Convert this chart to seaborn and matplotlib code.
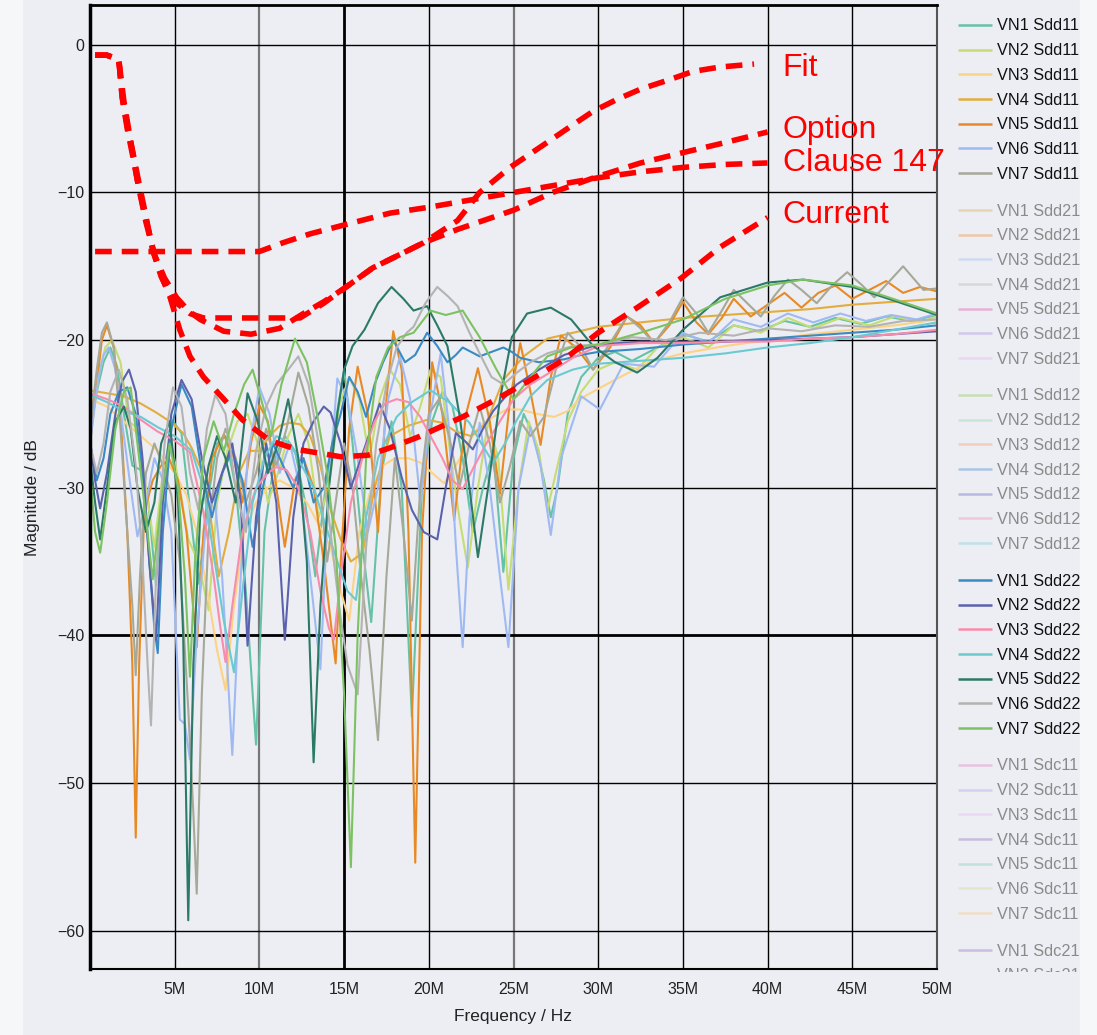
import numpy as np
import pandas as pd
import seaborn as sns
import matplotlib
matplotlib.use("Agg")
from matplotlib import pyplot as plt
from matplotlib.patches import Rectangle

# ---- measured traces (frequency in MHz, magnitude in dB) ----
vn1_sdd11_f = [0, 0.4, 0.8, 1.2, 1.6, 2.0, 2.5, 3.0, 3.4, 3.9, 4.4, 4.9, 5.4, 5.9, 6.4, 7.0, 7.5, 8.0, 8.6, 9.2, 9.8, 10.3, 10.9, 11.5, 12.1, 12.7, 13.3, 13.9, 14.5, 15.0, 15.5, 16.0, 16.6, 17.2, 17.8, 18.4, 19.0, 19.6, 20.2, 20.8, 21.4, 22.0, 22.6, 23.2, 23.8, 24.4, 25.0, 25.6, 26.2, 26.8, 27.2, 27.6, 28.2, 29.0, 30.0, 31.0, 32.0, 33.5, 35, 36.5, 38, 39.5, 41, 42.5, 44, 45.5, 47, 48.5, 50]
vn1_sdd11_db = [-25.5, -23.5, -21.5, -20.5, -21.8, -25, -28.5, -28.8, -30.5, -36.6, -28.5, -25.5, -26.3, -31.5, -36.5, -30.5, -27.0, -26.5, -30, -37, -47.4, -33, -28, -26.5, -27.5, -31, -36, -30, -25.5, -22.0, -27, -33, -39.1, -29, -25.5, -30, -45.5, -30, -25.5, -23.5, -24.5, -28, -33, -30, -27.5, -35.7, -28, -25, -26.5, -29.5, -32, -30, -25, -22.5, -21.2, -20.8, -21.4, -20.5, -19.6, -20.1, -19.0, -19.4, -18.7, -19.1, -18.5, -18.9, -18.4, -18.7, -18.3]

vn2_sdd11_f = [0, 0.5, 0.9, 1.3, 1.8, 2.3, 2.8, 3.3, 3.8, 4.3, 4.8, 5.3, 5.8, 6.4, 7.0, 7.5, 8.1, 8.7, 9.3, 9.9, 10.5, 11.1, 11.7, 12.3, 12.9, 13.5, 14.1, 14.7, 15.3, 15.9, 16.5, 17.1, 17.7, 18.3, 18.9, 19.5, 20.1, 20.7, 21.3, 21.8, 22.3, 22.9, 23.5, 24.1, 24.7, 25.3, 25.9, 26.5, 27.0, 27.5, 28.2, 29, 30, 31, 32.3, 33.5, 35, 36.5, 38, 39.6, 41.2, 42.7, 44.3, 46, 47.5, 49, 50]
vn2_sdd11_db = [-26.5, -22.5, -20.5, -20.0, -21.5, -25.5, -26, -30, -34, -29, -27, -30, -33.5, -35, -38.3, -31, -27.5, -25.5, -25, -27, -31, -29, -26.5, -25, -27, -32, -30, -24.5, -22.5, -24, -28, -24, -22, -23, -26.5, -24.5, -22.0, -22.5, -28, -32, -35.4, -30, -25.5, -28, -36.9, -30, -25.5, -27.5, -31.5, -29, -25.5, -23.5, -22, -21.5, -22, -20.5, -19.8, -20.5, -19.0, -19.5, -18.5, -19.2, -18.5, -19.0, -18.4, -18.8, -18.4]

vn3_sdd11_f = [0, 1, 2, 3, 4, 5, 5.7, 6.3, 7.0, 7.5, 8.0, 8.5, 9.1, 9.8, 10.5, 11.2, 12.0, 12.8, 13.5, 14.2, 14.8, 15.3, 15.9, 16.6, 17.3, 18.0, 18.8, 19.5, 20.2, 20.9, 21.6, 22.3, 23.0, 23.8, 24.6, 25.4, 26.4, 27.4, 28.2, 28.9, 30.0, 31.3, 33, 35, 37.5, 40, 42.5, 45, 47.5, 50]
vn3_sdd11_db = [-24, -24.5, -25.5, -26.5, -27.5, -29, -30.5, -33, -37.5, -41, -43.7, -38, -33, -31, -30, -29.5, -30, -31, -32.5, -34, -37, -39, -33, -30, -28.5, -28, -28, -28.3, -29.0, -29.7, -28.5, -27, -25.8, -25.2, -24.7, -24.7, -25.0, -25.2, -24.8, -24.0, -23.3, -22.5, -21.5, -20.9, -20.4, -20.0, -19.6, -19.3, -19.0, -18.6]

vn4_sdd11_f = [0, 1, 2, 3, 3.9, 4.7, 5.5, 6.0, 6.5, 7.0, 7.6, 8.2, 8.8, 9.4, 10.0, 10.6, 11.2, 11.8, 12.4, 13.0, 13.6, 14.2, 14.8, 15.4, 16.1, 16.8, 17.7, 18.8, 19.9, 20.8, 21.6, 22.5, 23.4, 24.4, 25.6, 27.0, 28.9, 30, 32.5, 35, 37.5, 40, 42.5, 45, 47.5, 50]
vn4_sdd11_db = [-23.4, -23.6, -23.8, -24.3, -24.9, -25.5, -26.3, -27.3, -28.6, -31, -36, -33, -29, -27.5, -27.5, -26.5, -25.8, -25.6, -25.7, -26.5, -28.5, -31.5, -33.5, -35, -34.4, -30, -26.5, -25.8, -25.4, -25.6, -26.2, -26.5, -25.6, -22.7, -21.1, -19.9, -19.4, -19.1, -18.8, -18.5, -18.3, -18.1, -17.9, -17.6, -17.4, -17.2]

vn5_sdd11_f = [0, 0.4, 0.7, 1.0, 1.4, 1.8, 2.2, 2.5, 2.7, 2.9, 3.2, 3.7, 4.2, 4.7, 5.2, 5.7, 6.0, 6.3, 6.7, 7.2, 7.9, 8.5, 9.0, 9.5, 10.0, 10.5, 11.0, 11.5, 12.1, 12.6, 13.2, 13.8, 14.2, 14.5, 14.8, 15.3, 15.8, 16.4, 17.0, 17.5, 17.9, 18.4, 18.8, 19.2, 19.6, 20.2, 20.8, 21.5, 22.2, 22.9, 23.6, 24.2, 24.8, 25.4, 26.0, 26.6, 27.2, 27.8, 28.7, 29.7, 30.7, 31.7, 32.5, 33.3, 34.2, 35, 35.8, 36.5, 37.3, 38, 39, 40, 41, 42, 43, 44, 45, 46, 47, 48, 49, 50]
vn5_sdd11_db = [-27, -23, -20, -19.0, -20.5, -25, -33, -42, -53.7, -42, -31.7, -29.5, -28.5, -28.1, -29.5, -33, -37, -40.8, -33, -28, -26.4, -28, -31, -27, -24.4, -25.5, -30, -34, -29.5, -28, -30, -35, -39, -41.9, -35, -26, -21.8, -25, -33, -24, -19.4, -22, -33, -55.4, -33, -21.5, -25, -32.2, -25, -21.9, -25.5, -30.4, -24, -20.2, -23.5, -27.1, -22.5, -19.7, -20.5, -22.0, -20.5, -18.4, -19, -20.2, -19, -17.4, -18.8, -19.6, -18.5, -17.2, -18.4, -17.6, -16.8, -17.8, -16.8, -16.3, -17.2, -16.6, -16.0, -16.8, -16.4, -16.7]

vn6_sdd11_f = [0, 0.5, 0.8, 1.1, 1.5, 2.0, 2.4, 2.8, 3.3, 3.8, 4.3, 4.8, 5.3, 5.6, 5.9, 6.3, 6.8, 7.3, 7.8, 8.1, 8.4, 8.8, 9.3, 10.0, 10.6, 11.2, 11.8, 12.4, 13.0, 13.6, 14.1, 14.6, 15.2, 15.8, 16.4, 17.0, 17.6, 18.3, 18.9, 19.5, 20.1, 20.7, 21.2, 21.6, 22.0, 22.4, 23.0, 23.6, 24.2, 24.7, 25.3, 26.0, 26.6, 27.2, 27.8, 29.0, 30.1, 31.5, 33.3, 35, 36.5, 38, 39.6, 41.2, 42.7, 44.3, 45.8, 47.3, 48.8, 50]
vn6_sdd11_db = [-27, -22.5, -21, -20.5, -22, -26.5, -30, -33.3, -31, -28, -29.5, -33, -45.7, -46, -48.4, -40, -33, -30, -36, -42, -48.1, -38, -28, -23.2, -25, -29, -27, -30, -36, -42.3, -30, -22.6, -24, -28, -33, -30, -24, -21.1, -24, -31, -25, -20.9, -26, -34, -40.8, -32, -25.6, -30, -36, -40.8, -30, -25.9, -28.5, -33.2, -28, -23.8, -24.7, -21.6, -21.8, -19.5, -20.2, -18.6, -19.1, -18.2, -18.8, -18.2, -18.7, -18.3, -18.6, -18.2]

vn7_sdd11_f = [0, 0.4, 0.7, 1.0, 1.4, 1.8, 2.2, 2.5, 2.7, 2.95, 3.3, 3.8, 4.3, 4.8, 5.3, 5.8, 6.1, 6.3, 6.6, 7.0, 7.5, 8.0, 8.6, 9.2, 9.8, 10.4, 11.0, 11.6, 12.3, 12.9, 13.5, 14.0, 14.5, 15.0, 15.5, 16.0, 16.5, 17.0, 17.5, 18.0, 18.5, 19.0, 19.5, 20.0, 20.6, 21.2, 21.8, 22.4, 23.0, 23.6, 24.2, 24.8, 25.4, 26.0, 26.8, 27.5, 28.2, 29.0, 29.7, 30.7, 31.7, 32.5, 33.3, 34.2, 35, 35.8, 36.5, 37.3, 38, 38.8, 39.6, 40.4, 41.2, 42.0, 42.9, 43.8, 44.7, 45.5, 46.3, 47.2, 48, 48.6, 49.2, 50]
vn7_sdd11_db = [-26, -22, -19.5, -18.8, -20.5, -26, -33, -38, -42.7, -36, -29, -27, -28.5, -30.5, -35, -45, -52, -57.5, -44, -33, -28, -26, -28, -31, -29, -26, -28.5, -26, -22.2, -24.5, -29, -35, -31, -27, -30, -36, -41, -47.1, -36, -28, -33, -39, -30, -25, -24, -26.5, -30, -27, -24.5, -27, -31, -28.5, -25.5, -26.5, -25.2, -22, -19.5, -20.5, -22.0, -20.2, -18.4, -19.2, -20.2, -18.8, -17.1, -18.2, -19.5, -18.0, -16.6, -17.5, -18.4, -17.0, -15.9, -16.6, -17.5, -16.3, -15.4, -16.2, -17.1, -16.0, -15.0, -15.8, -16.6, -16.5]

vn1_sdd22_f = [0, 0.4, 0.8, 1.2, 1.7, 2.2, 2.7, 3.1, 3.5, 3.8, 4.0, 4.3, 4.8, 5.4, 6.0, 6.6, 7.2, 7.8, 8.4, 9.0, 9.6, 10.2, 10.8, 11.4, 12.0, 12.6, 13.2, 13.8, 14.3, 14.8, 15.3, 15.8, 16.3, 16.8, 17.3, 17.9, 18.6, 19.2, 19.9, 20.5, 21.1, 21.6, 22.0, 22.5, 23.0, 23.7, 24.4, 24.9, 25.4, 26.5, 28, 29, 30, 32.5, 35, 37.5, 40, 42.5, 45, 47.5, 50]
vn1_sdd22_db = [-27, -29.5, -28, -25, -23.5, -23.2, -25, -29, -35, -39.5, -41.2, -33, -26, -23, -24.5, -29, -32, -29, -27.5, -29.5, -34, -30, -27, -28.5, -30, -28, -31, -30, -27, -25, -22.5, -23.5, -25.2, -23, -21.5, -20.0, -21.5, -21, -19.5, -20.4, -21.5, -21, -20.5, -20.8, -21.1, -20.8, -20.5, -20.8, -21.2, -21.5, -21.3, -21.0, -20.8, -20.6, -20.3, -20.1, -19.9, -19.7, -19.5, -19.3, -19.0]

vn2_sdd22_f = [0, 0.3, 0.6, 1.0, 1.5, 1.9, 2.3, 2.7, 3.1, 3.5, 3.9, 4.3, 4.8, 5.4, 6.0, 6.6, 7.2, 7.8, 8.4, 8.9, 9.3, 9.8, 10.4, 11.0, 11.5, 12.0, 12.6, 13.2, 13.8, 14.2, 14.8, 15.4, 16.0, 16.6, 17.1, 17.7, 18.4, 19.0, 19.7, 20.5, 21.0, 21.6, 22.1, 22.6, 23.2, 23.8, 24.4, 25.2, 26.5, 28, 30, 32.5, 35, 37.5, 40, 42.5, 45, 47.5, 50]
vn2_sdd22_db = [-26.8, -29.5, -31.4, -29, -25, -22.8, -22.0, -23.5, -28, -35, -40.3, -31, -25, -22.7, -24, -28, -31, -29, -27, -31, -40.7, -32, -27, -31, -40.3, -32, -27, -25.5, -24.5, -24.9, -27, -30, -28, -26, -24.3, -26, -29.3, -31.5, -33, -33.5, -30, -26.3, -26.8, -27.4, -26, -24.8, -24.0, -23.0, -22.0, -21.0, -20.3, -20.1, -20.1, -20.1, -20.0, -19.9, -19.8, -19.6, -19.4]

vn3_sdd22_f = [0, 1, 2, 3, 4, 5, 5.9, 6.7, 7.3, 7.7, 8.0, 8.4, 9.0, 9.8, 10.5, 11.0, 11.6, 12.3, 13.0, 13.6, 14.1, 14.4, 14.8, 15.4, 16.1, 16.8, 17.4, 18.1, 18.8, 19.5, 20.1, 20.8, 21.4, 22.0, 22.7, 23.4, 24.2, 25.0, 26.0, 27.0, 28.5, 30, 32.5, 35, 37.5, 40, 42.5, 45, 47.5, 50]
vn3_sdd22_db = [-23.6, -24, -24.5, -25.4, -26.2, -26.8, -27.6, -31.7, -36, -39.5, -41.8, -38, -33, -30, -29, -28.6, -28.8, -30, -33, -37, -39.5, -40.3, -36, -31, -27.9, -25.5, -24.3, -24.0, -24.2, -25.2, -26.5, -28, -29.5, -30.1, -28.5, -27, -25.5, -24, -23, -22.3, -21.2, -20.4, -20.2, -20.2, -20.1, -20.1, -19.9, -19.8, -19.6, -19.3]

vn4_sdd22_f = [0, 1, 2, 3, 4, 5, 6, 6.7, 7.3, 7.9, 8.5, 9.0, 9.6, 10.3, 11.0, 11.8, 12.5, 13.2, 13.9, 14.6, 15.2, 15.7, 16.3, 17.0, 18.1, 19.0, 20.1, 21.2, 22.4, 23.1, 23.8, 24.5, 25.2, 26, 27, 28.5, 30, 32.5, 35, 37.5, 40, 42.5, 45, 47.5, 50]
vn4_sdd22_db = [-23.7, -24.2, -24.8, -25.2, -25.9, -26.5, -27.5, -30, -34.5, -39, -42.5, -37, -31, -28, -26.5, -27, -28.5, -30, -32.5, -35, -37, -37.6, -32, -28, -25.2, -24.2, -23.4, -24.2, -25.6, -27, -28.3, -27, -25.4, -23.8, -22.7, -22.0, -21.6, -21.4, -21.2, -20.9, -20.5, -20.2, -19.8, -19.3, -18.8]

vn5_sdd22_f = [0, 0.3, 0.6, 1.0, 1.5, 2.0, 2.4, 2.8, 3.3, 3.8, 4.2, 4.7, 5.2, 5.5, 5.8, 6.1, 6.5, 7.0, 7.5, 8.0, 8.6, 9.3, 9.9, 10.5, 11.1, 11.7, 12.3, 12.8, 13.2, 13.6, 14.1, 14.6, 15.0, 15.5, 16.2, 17.0, 17.8, 18.5, 19.1, 19.9, 20.5, 21.1, 21.8, 22.4, 22.9, 23.5, 24.2, 24.9, 25.8, 27.2, 28.4, 29.7, 31, 32.3, 33.5, 35, 37.2, 40, 42.1, 45, 47.4, 50]
vn5_sdd22_db = [-28, -31, -33.5, -30, -25.5, -24.5, -26, -30, -33, -31, -27, -25.5, -31, -40, -59.3, -42, -32, -28.5, -26.5, -28, -31, -23.6, -25.5, -29, -27, -24.0, -28, -35, -48.6, -38, -30, -25, -22.0, -20.4, -19.3, -17.5, -16.4, -17.2, -18.0, -17.7, -19.0, -20.4, -25, -30, -34.7, -30, -24, -19.8, -18.2, -17.8, -18.6, -20.4, -21.5, -22.2, -21.2, -19.3, -17.1, -16.1, -15.9, -16.4, -17.3, -18.3]

vn6_sdd22_f = [0, 0.4, 0.8, 1.2, 1.7, 2.2, 2.7, 3.1, 3.4, 3.6, 3.9, 4.4, 4.9, 5.4, 5.9, 6.4, 6.9, 7.4, 8.0, 8.6, 9.2, 9.8, 10.4, 11.0, 11.7, 12.3, 12.9, 13.5, 14.1, 14.7, 15.2, 15.8, 16.3, 16.9, 17.5, 18.1, 18.7, 19.1, 19.8, 20.5, 21.1, 21.7, 22.4, 23.0, 23.7, 24.4, 25.2, 26.0, 27.0, 28.5, 30, 32, 34, 36, 38, 40, 42, 44, 46, 48, 50]
vn6_sdd22_db = [-27, -29, -27, -23.5, -22, -24, -28.5, -35, -42, -46.1, -36, -27, -23.2, -24.5, -29, -31.5, -26, -23.7, -25, -30, -33, -27.5, -24.5, -23, -22, -21.1, -23, -27, -32, -38, -42, -44, -34, -27, -23, -20.5, -19.5, -19.1, -17.5, -16.4, -17.0, -17.7, -19.5, -20.9, -22.5, -23, -22.2, -21.5, -20.9, -20.4, -20.3, -19.8, -20.0, -19.5, -19.7, -19.2, -19.4, -19.0, -19.1, -18.7, -18.6]

vn7_sdd22_f = [0, 0.3, 0.6, 1.0, 1.5, 2.0, 2.4, 2.8, 3.3, 3.7, 4.2, 4.7, 5.2, 5.6, 5.9, 6.2, 6.7, 7.3, 7.9, 8.5, 9.1, 9.6, 10.1, 10.7, 11.3, 12.1, 12.8, 13.4, 14.0, 14.5, 15.0, 15.4, 15.8, 16.3, 16.9, 17.6, 18.3, 19.1, 20.1, 21.0, 22.0, 23.0, 24.0, 25.0, 26.0, 27.0, 28.4, 30, 32.5, 35, 37.5, 40, 42.1, 45, 47.4, 50]
vn7_sdd22_db = [-29, -33, -34.4, -31, -26, -23.5, -23.2, -27, -32, -36.2, -31, -27, -30, -36, -42.8, -35, -28, -25.5, -27.5, -25, -23, -22.0, -24, -26.5, -23, -19.9, -21.5, -25, -29, -34, -44, -55.7, -40, -28, -22.5, -20.5, -19.8, -19.5, -18.0, -18.3, -18.0, -19.8, -22.0, -24, -22.5, -21.1, -20.5, -20.3, -19.5, -18.6, -17.2, -16.3, -15.9, -16.3, -17.2, -18.2]

# ---- limit lines ----
fit_f = [0.3, 1.0, 1.7, 1.9, 2.2, 2.5, 2.9, 3.3, 3.7, 4.2, 4.9, 5.9, 6.7, 8, 10, 12.4, 13.8, 15.0, 16.7, 18.3, 19.7, 21.7, 23.0, 24.8, 27.0, 28.4, 29.7, 31.1, 32.5, 34.1, 35.6, 37.2, 39.2]
fit_db = [-0.7, -0.7, -1.0, -3.5, -5.5, -7.1, -9.4, -11.6, -13.9, -15.7, -17.3, -18.2, -18.5, -18.5, -18.5, -18.5, -17.5, -16.5, -15.1, -14.2, -13.4, -11.9, -10.0, -8.3, -6.6, -5.5, -4.5, -3.7, -3.0, -2.4, -1.8, -1.5, -1.3]
option_f = [0.3, 1.0, 1.7, 1.9, 2.2, 2.5, 2.9, 3.3, 3.8, 4.4, 5.1, 5.8, 6.5, 7.9, 9.5, 11.2, 12.6, 13.8, 15.0, 16.7, 18.3, 19.7, 21.7, 25.0, 27.3, 30.0, 32.5, 35.0, 37.2, 40.0]
option_db = [-0.7, -0.7, -1.0, -3.6, -5.7, -7.4, -9.8, -12.0, -14.2, -15.8, -17.1, -18.0, -18.6, -19.4, -19.6, -19.2, -18.2, -17.4, -16.5, -15.1, -14.2, -13.4, -12.5, -11.2, -10.0, -8.9, -8.0, -7.3, -6.7, -5.9]
clause_f = [0.3, 2, 4, 6, 8, 10, 11.4, 13, 15, 17.7, 20, 22.5, 25, 27.5, 30, 32.5, 35, 37.5, 40]
clause_db = [-14, -14, -14, -14, -14, -14, -13.4, -12.8, -12.2, -11.4, -11.0, -10.5, -10.0, -9.5, -9.0, -8.6, -8.3, -8.1, -8.0]
current_f = [0.3, 1.0, 1.7, 2.0, 2.4, 2.8, 3.3, 3.8, 4.3, 4.7, 5.3, 5.9, 6.7, 7.9, 9.0, 10.6, 12.2, 14.8, 16.4, 17.7, 19.3, 22.0, 24.0, 26.0, 28.0, 30.0, 32.3, 34.9, 37.2, 40.0]
current_db = [-0.7, -0.7, -1.0, -3.8, -6.5, -9.2, -11.8, -14.2, -15.9, -17.0, -19.3, -21.1, -22.5, -24.0, -25.4, -26.8, -27.4, -27.9, -27.8, -27.3, -26.6, -25.2, -24.0, -22.7, -21.3, -19.5, -17.8, -15.8, -13.7, -11.7]

limit_names = ["Fit", "Option", "Clause 147", "Current"]
limit_label_db = [-1.6, -5.8, -8.0, -11.5]

vn_names = ["VN1", "VN2", "VN3", "VN4", "VN5", "VN6", "VN7"]
groups = ["Sdd11", "Sdd21", "Sdd12", "Sdd22", "Sdc11", "Sdc21"]
shown_groups = ["Sdd11", "Sdd22"]
palette = {
    "Sdd11": ["#66c2a5", "#c5dd72", "#fcd385", "#e2ad3c", "#e88a24", "#9fbaf3", "#a6a898"],
    "Sdd21": ["#e2c07c", "#f0a866", "#b8caf2", "#c4c6c0", "#e27fbf", "#bba8e6", "#e8c4f2"],
    "Sdd12": ["#a9d27e", "#a6e3c2", "#f5b293", "#6fa6d6", "#8a8fcf", "#f3a8c6", "#9ad8e0"],
    "Sdd22": ["#3a8ac4", "#5b62ad", "#f98bac", "#6bcad0", "#2b7a68", "#b3b3b3", "#7dc262"],
    "Sdc11": ["#e39fd0", "#c6b6f0", "#e9c6f5", "#a894cf", "#9fd8c8", "#d8e2ad", "#f4d3a0"],
    "Sdc21": ["#ad97d3", "#c9c0ea"],
}

traces = {
    "VN1 Sdd11": (vn1_sdd11_f, vn1_sdd11_db), "VN2 Sdd11": (vn2_sdd11_f, vn2_sdd11_db),
    "VN3 Sdd11": (vn3_sdd11_f, vn3_sdd11_db), "VN4 Sdd11": (vn4_sdd11_f, vn4_sdd11_db),
    "VN5 Sdd11": (vn5_sdd11_f, vn5_sdd11_db), "VN6 Sdd11": (vn6_sdd11_f, vn6_sdd11_db),
    "VN7 Sdd11": (vn7_sdd11_f, vn7_sdd11_db),
    "VN1 Sdd22": (vn1_sdd22_f, vn1_sdd22_db), "VN2 Sdd22": (vn2_sdd22_f, vn2_sdd22_db),
    "VN3 Sdd22": (vn3_sdd22_f, vn3_sdd22_db), "VN4 Sdd22": (vn4_sdd22_f, vn4_sdd22_db),
    "VN5 Sdd22": (vn5_sdd22_f, vn5_sdd22_db), "VN6 Sdd22": (vn6_sdd22_f, vn6_sdd22_db),
    "VN7 Sdd22": (vn7_sdd22_f, vn7_sdd22_db),
}
limits = {"Fit": (fit_f, fit_db), "Option": (option_f, option_db),
          "Clause 147": (clause_f, clause_db), "Current": (current_f, current_db)}

rows = []
for name, (f, db) in traces.items():
    rows += [{"trace": name, "freq": a, "mag": b} for a, b in zip(f, db)]
df = pd.DataFrame(rows)
lrows = []
for name, (f, db) in limits.items():
    lrows += [{"limit": name, "freq": a, "mag": b} for a, b in zip(f, db)]
ldf = pd.DataFrame(lrows)

colors = {}
for g in shown_groups:
    for i, vn in enumerate(vn_names):
        colors[f"{vn} {g}"] = palette[g][i]

# ---- figure ----
sns.set_style("white")
plt.rcParams["font.family"] = ["Liberation Sans", "DejaVu Sans"]
W, H = 1097, 1035
BG = "#edeef3"
fig = plt.figure(figsize=(W / 100, H / 100), dpi=100, facecolor=BG)
fig.patches.append(Rectangle((0, 0), 22 / W, 1, transform=fig.transFigure, color="#f6f7f9", zorder=-1))
fig.patches.append(Rectangle((1080 / W, 0), 17 / W, 1, transform=fig.transFigure, color="#f6f7f9", zorder=-1))

ax = fig.add_axes([90 / W, (H - 969) / H, (937 - 90) / W, (969 - 5) / H])
ax.set_facecolor(BG)

# grid drawn by hand to mimic the uneven line weights
for xv in range(5, 50, 5):
    c, w = "black", 1.0
    if xv in (10, 25):
        c, w = "#777777", 1.6
    if xv == 15:
        w = 2.0
    ax.axvline(xv, color=c, lw=w, zorder=0)
for yv in range(0, -70, -10):
    ax.axhline(yv, color="black", lw=2.0 if yv == -40 else 1.0, zorder=0)

sns.lineplot(data=df, x="freq", y="mag", hue="trace", hue_order=list(traces.keys()),
             palette=colors, estimator=None, sort=False, lw=1.5, legend=False, ax=ax)
sns.lineplot(data=ldf, x="freq", y="mag", style="limit", style_order=limit_names,
             dashes={n: (3, 1.8) for n in limit_names}, color="#ff0000", lw=4,
             estimator=None, sort=False, legend=False, ax=ax)

for name, yv in zip(limit_names, limit_label_db):
    ax.text(40.9, yv, name, color="#ff0000", fontsize=23, va="center", ha="left", clip_on=False, zorder=10)

ax.set_xlim(0, 50)
ax.set_ylim(-62.6, 2.7)
ax.set_xticks(range(5, 55, 5))
ax.set_xticklabels([f"{v}M" for v in range(5, 55, 5)])
ax.set_yticks(range(0, -70, -10))
ax.tick_params(axis="both", length=0, labelsize=11.5, colors="#222222")
ax.tick_params(axis="x", pad=9)
ax.tick_params(axis="y", pad=4)
ax.set_xlabel("")
ax.set_ylabel("")
for side, w, c in [("left", 2.5, "black"), ("top", 2.0, "black"), ("bottom", 1.5, "black"), ("right", 1.5, "#555555")]:
    ax.spines[side].set_linewidth(w)
    ax.spines[side].set_color(c)

fig.text(513 / W, 1 - 1017 / H, "Frequency / Hz", ha="center", va="center", fontsize=12.5, color="#222222")
fig.text(32 / W, 1 - 498 / H, "Magnitude / dB", ha="center", va="center", rotation=90, fontsize=12.5, color="#222222")

# ---- legend (plotly style, hidden traces greyed out, clipped at the bottom) ----
lax = fig.add_axes([940 / W, (H - 972) / H, 157 / W, 972 / H])
lax.set_xlim(940, 1097)
lax.set_ylim(972, 0)
lax.axis("off")
for gi, g in enumerate(groups):
    active = g in shown_groups
    for i, c in enumerate(palette[g]):
        yc = 25 + gi * 185 + i * 24.67
        lax.plot([958, 992], [yc, yc], color=c, lw=1.8, alpha=1.0 if active else 0.55,
                 solid_capstyle="butt", clip_on=True)
        lax.text(997, yc + 1, f"{vn_names[i]} {g}", fontsize=11.7, va="center", ha="left",
                 color="#111111" if active else "#8a8a8a", clip_on=True)

fig.savefig("out.png", dpi=100, facecolor=BG)
